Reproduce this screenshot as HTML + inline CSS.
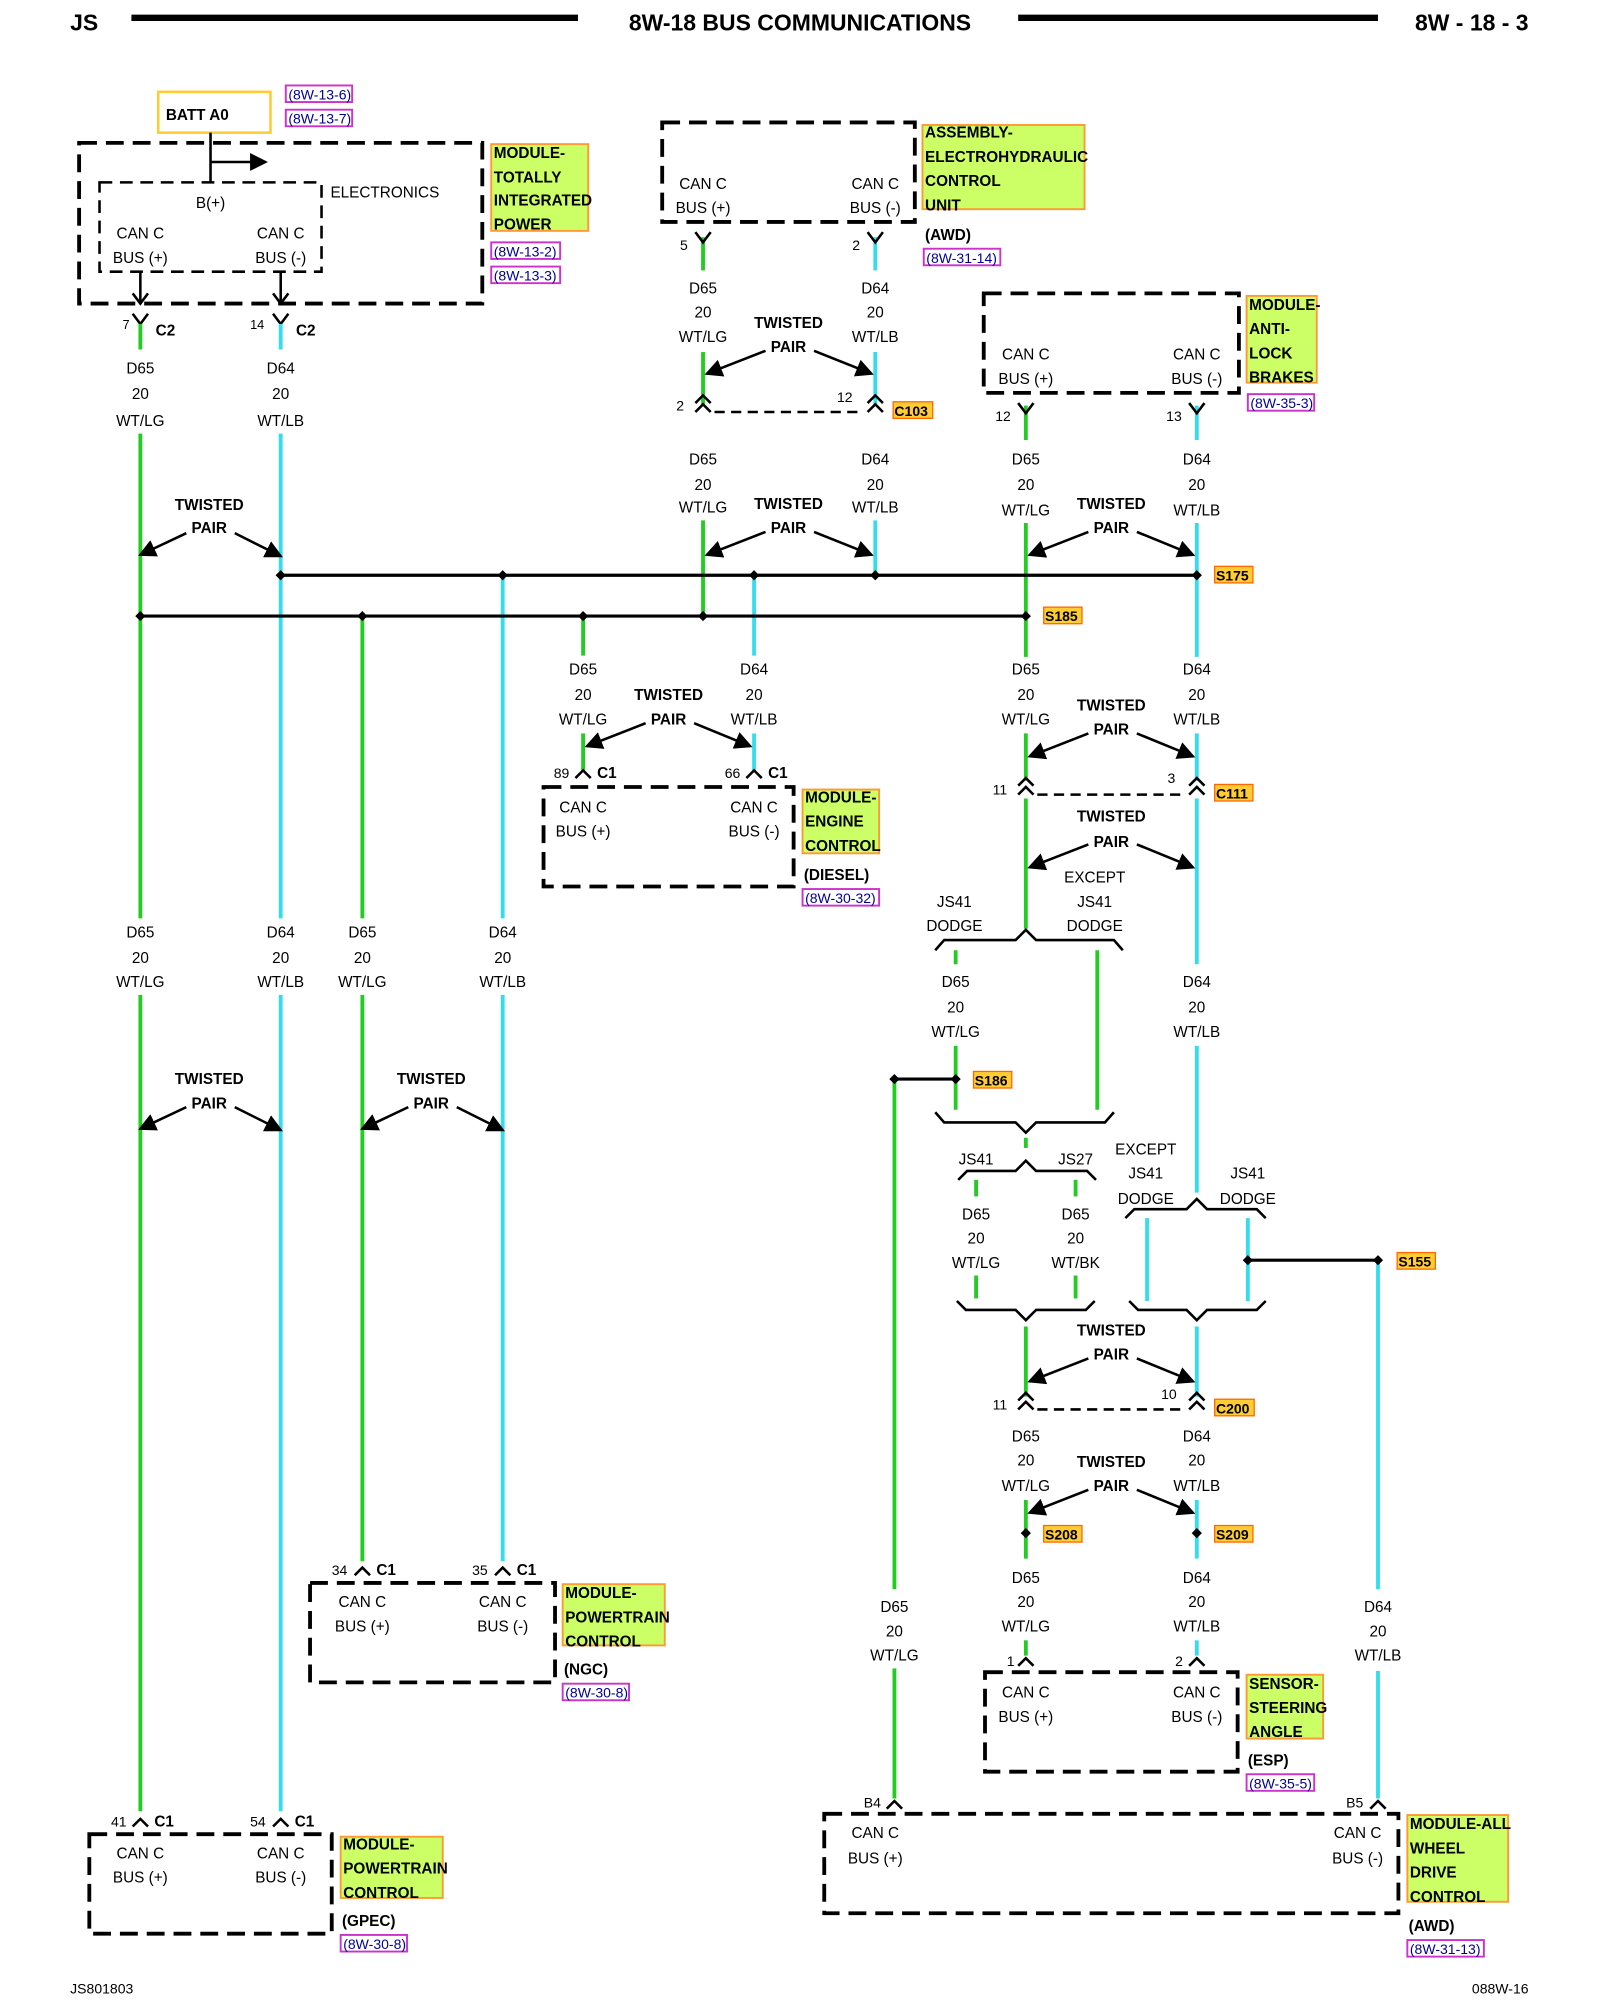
<!DOCTYPE html>
<html><head><meta charset="utf-8"><style>
html,body{margin:0;padding:0;background:#fff}
svg{display:block}
text{font-family:"Liberation Sans",sans-serif;font-size:12px;fill:#000}
.c{text-anchor:middle}
.b{font-weight:bold}
.g{stroke:#22cc22;stroke-width:3;fill:none}
.y{stroke:#33ddee;stroke-width:3;fill:none}
.k{stroke:#000;stroke-width:2;fill:none}
.d{stroke:#000;stroke-width:3;fill:none;stroke-dasharray:14 7}
.dt{stroke:#000;stroke-width:2;fill:none;stroke-dasharray:10 6}
.lab{fill:#ccff66;stroke:#ff9933;stroke-width:1.5}
.ref{fill:#fff;stroke:#cc33cc;stroke-width:1.5}
.rt{fill:#000099;font-size:11px}
.sp{fill:#ffcc33;stroke:#ff6600;stroke-width:1}
</style></head><body>
<svg width="1600" height="2000" viewBox="0 0 1254 1568" preserveAspectRatio="none" xmlns="http://www.w3.org/2000/svg">
<defs>
<marker id="ah" markerWidth="10" markerHeight="10" refX="8" refY="5" orient="auto" markerUnits="userSpaceOnUse"><path d="M0,0 L10,5 L0,10 z" fill="#000"/></marker>
<marker id="ah2" markerWidth="14" markerHeight="14" refX="12" refY="7" orient="auto" markerUnits="userSpaceOnUse"><path d="M0,0 L14,7 L0,14 z" fill="#000"/></marker>
</defs>
<!-- header -->
<text x="55" y="24" class="b" style="font-size:18px">JS</text>
<line x1="103" y1="14" x2="453" y2="14" stroke="#000" stroke-width="5"/>
<text x="627" y="24" class="b c" style="font-size:18px">8W-18 BUS COMMUNICATIONS</text>
<line x1="798" y1="14" x2="1080" y2="14" stroke="#000" stroke-width="5"/>
<text x="1198" y="24" class="b" style="font-size:18px;text-anchor:end">8W - 18 - 3</text>
<text x="55" y="1563" style="font-size:11px">JS801803</text>
<text x="1198" y="1563" style="font-size:11px;text-anchor:end">088W-16</text>

<!-- BATT -->
<rect x="124" y="72" width="88" height="32" fill="#fff" stroke="#ffcc33" stroke-width="2"/>
<text x="130" y="94" class="b">BATT A0</text>
<rect class="ref" x="224" y="67" width="52" height="13"/><text class="rt" x="226" y="78">(8W-13-6)</text>
<rect class="ref" x="224" y="86" width="52" height="13"/><text class="rt" x="226" y="97">(8W-13-7)</text>

<!-- TIPM -->
<rect class="d" x="62" y="112" width="316" height="126"/>
<rect class="dt" x="78" y="143" width="174" height="70"/>
<text x="259" y="155">ELECTRONICS</text>
<text x="165" y="163" class="c">B(+)</text>
<text x="110" y="187" class="c">CAN C</text><text x="110" y="206" class="c">BUS (+)</text>
<text x="220" y="187" class="c">CAN C</text><text x="220" y="206" class="c">BUS (-)</text>
<line class="k" x1="165" y1="104" x2="165" y2="143"/>
<line class="k" x1="165" y1="127" x2="208" y2="127" marker-end="url(#ah2)"/>
<line class="k" x1="110" y1="213" x2="110" y2="238"/><path class="k" d="M104,230 L110,238 L116,230"/>
<line class="k" x1="220" y1="213" x2="220" y2="238"/><path class="k" d="M214,230 L220,238 L226,230"/>
<rect class="lab" x="385" y="113" width="76" height="68"/>
<text x="387" y="124" class="b">MODULE-</text><text x="387" y="143" class="b">TOTALLY</text><text x="387" y="161" class="b">INTEGRATED</text><text x="387" y="180" class="b">POWER</text>
<rect class="ref" x="385" y="190" width="54" height="13"/><text class="rt" x="387" y="201">(8W-13-2)</text>
<rect class="ref" x="385" y="209" width="54" height="13"/><text class="rt" x="387" y="220">(8W-13-3)</text>

<!-- C2 pins -->
<path class="k" d="M104,246 L110,254 L116,246"/><text x="96" y="258" style="font-size:10px">7</text><text x="122" y="263" class="b">C2</text>
<path class="k" d="M214,246 L220,254 L226,246"/><text x="196" y="258" style="font-size:10px">14</text><text x="232" y="263" class="b">C2</text>

<!-- wires -->
<g class="g">
<line x1="110" y1="254" x2="110" y2="274"/><line x1="110" y1="340" x2="110" y2="720"/><line x1="110" y1="780" x2="110" y2="1420"/>
<line x1="284" y1="483" x2="284" y2="720"/><line x1="284" y1="780" x2="284" y2="1224"/>
<line x1="457" y1="483" x2="457" y2="514"/><line x1="457" y1="575" x2="457" y2="604"/>
<line x1="551" y1="186" x2="551" y2="212"/><line x1="551" y1="276" x2="551" y2="318"/><line x1="551" y1="408" x2="551" y2="483"/>
<line x1="804" y1="318" x2="804" y2="345"/><line x1="804" y1="410" x2="804" y2="515"/><line x1="804" y1="575" x2="804" y2="612"/><line x1="804" y1="626" x2="804" y2="728"/>
<line x1="749" y1="745" x2="749" y2="756"/><line x1="749" y1="820" x2="749" y2="870"/><line x1="860" y1="745" x2="860" y2="870"/>
<line x1="701" y1="846" x2="701" y2="1246"/><line x1="701" y1="1308" x2="701" y2="1410"/>
<line x1="804" y1="892" x2="804" y2="900"/>
<line x1="765" y1="925" x2="765" y2="938"/><line x1="765" y1="1000" x2="765" y2="1018"/>
<line x1="843" y1="925" x2="843" y2="938"/><line x1="843" y1="1000" x2="843" y2="1018"/>
<line x1="804" y1="1040" x2="804" y2="1095"/><line x1="804" y1="1176" x2="804" y2="1222"/><line x1="804" y1="1286" x2="804" y2="1298"/>
</g>
<g class="y">
<line x1="220" y1="254" x2="220" y2="274"/><line x1="220" y1="340" x2="220" y2="720"/><line x1="220" y1="780" x2="220" y2="1420"/>
<line x1="394" y1="451" x2="394" y2="720"/><line x1="394" y1="780" x2="394" y2="1224"/>
<line x1="591" y1="451" x2="591" y2="514"/><line x1="591" y1="575" x2="591" y2="604"/>
<line x1="686" y1="186" x2="686" y2="212"/><line x1="686" y1="276" x2="686" y2="318"/><line x1="686" y1="408" x2="686" y2="451"/>
<line x1="938" y1="318" x2="938" y2="345"/><line x1="938" y1="410" x2="938" y2="515"/><line x1="938" y1="575" x2="938" y2="612"/><line x1="938" y1="626" x2="938" y2="756"/><line x1="938" y1="820" x2="938" y2="935"/>
<line x1="899" y1="955" x2="899" y2="1020"/><line x1="978" y1="955" x2="978" y2="1020"/>
<line x1="1080" y1="988" x2="1080" y2="1246"/><line x1="1080" y1="1310" x2="1080" y2="1410"/>
<line x1="938" y1="1040" x2="938" y2="1095"/><line x1="938" y1="1176" x2="938" y2="1222"/><line x1="938" y1="1286" x2="938" y2="1298"/>
</g>

<!-- splice bars -->
<line class="k" x1="220" y1="451" x2="938" y2="451" style="stroke-width:2.5"/>
<line class="k" x1="110" y1="483" x2="804" y2="483" style="stroke-width:2.5"/>
<line class="k" x1="701" y1="846" x2="749" y2="846" style="stroke-width:2.5"/>
<line class="k" x1="978" y1="988" x2="1080" y2="988" style="stroke-width:2.5"/>
<g fill="#000">
<path d="M220,447 l4,4 l-4,4 l-4,-4z"/><path d="M394,447 l4,4 l-4,4 l-4,-4z"/><path d="M591,447 l4,4 l-4,4 l-4,-4z"/><path d="M686,447 l4,4 l-4,4 l-4,-4z"/><path d="M938,447 l4,4 l-4,4 l-4,-4z"/>
<path d="M110,479 l4,4 l-4,4 l-4,-4z"/><path d="M284,479 l4,4 l-4,4 l-4,-4z"/><path d="M457,479 l4,4 l-4,4 l-4,-4z"/><path d="M551,479 l4,4 l-4,4 l-4,-4z"/><path d="M804,479 l4,4 l-4,4 l-4,-4z"/>
<path d="M701,842 l4,4 l-4,4 l-4,-4z"/><path d="M749,842 l4,4 l-4,4 l-4,-4z"/>
<path d="M978,984 l4,4 l-4,4 l-4,-4z"/><path d="M1080,984 l4,4 l-4,4 l-4,-4z"/>
<path d="M804,1198 l4,4 l-4,4 l-4,-4z"/><path d="M938,1198 l4,4 l-4,4 l-4,-4z"/>
</g>
<rect class="sp" x="952" y="444" width="30" height="13"/><text x="953" y="455" class="b" style="font-size:11px">S175</text>
<rect class="sp" x="818" y="476" width="30" height="13"/><text x="819" y="487" class="b" style="font-size:11px">S185</text>
<rect class="sp" x="763" y="840" width="30" height="13"/><text x="764" y="851" class="b" style="font-size:11px">S186</text>
<rect class="sp" x="1095" y="982" width="30" height="13"/><text x="1096" y="993" class="b" style="font-size:11px">S155</text>
<rect class="sp" x="818" y="1196" width="30" height="13"/><text x="819" y="1207" class="b" style="font-size:11px">S208</text>
<rect class="sp" x="952" y="1196" width="30" height="13"/><text x="953" y="1207" class="b" style="font-size:11px">S209</text>
<rect class="sp" x="700" y="315" width="31" height="13"/><text x="701" y="326" class="b" style="font-size:11px">C103</text>
<rect class="sp" x="952" y="615" width="30" height="13"/><text x="953" y="626" class="b" style="font-size:11px">C111</text>
<rect class="sp" x="952" y="1097" width="31" height="13"/><text x="953" y="1108" class="b" style="font-size:11px">C200</text>

<!-- wire labels -->
<g class="c">
<text x="110" y="293">D65</text><text x="110" y="313">20</text><text x="110" y="334">WT/LG</text>
<text x="220" y="293">D64</text><text x="220" y="313">20</text><text x="220" y="334">WT/LB</text>
<text x="110" y="735">D65</text><text x="110" y="755">20</text><text x="110" y="774">WT/LG</text>
<text x="220" y="735">D64</text><text x="220" y="755">20</text><text x="220" y="774">WT/LB</text>
<text x="284" y="735">D65</text><text x="284" y="755">20</text><text x="284" y="774">WT/LG</text>
<text x="394" y="735">D64</text><text x="394" y="755">20</text><text x="394" y="774">WT/LB</text>
<text x="551" y="230">D65</text><text x="551" y="249">20</text><text x="551" y="268">WT/LG</text>
<text x="686" y="230">D64</text><text x="686" y="249">20</text><text x="686" y="268">WT/LB</text>
<text x="551" y="364">D65</text><text x="551" y="384">20</text><text x="551" y="402">WT/LG</text>
<text x="686" y="364">D64</text><text x="686" y="384">20</text><text x="686" y="402">WT/LB</text>
<text x="804" y="364">D65</text><text x="804" y="384">20</text><text x="804" y="404">WT/LG</text>
<text x="938" y="364">D64</text><text x="938" y="384">20</text><text x="938" y="404">WT/LB</text>
<text x="457" y="529">D65</text><text x="457" y="549">20</text><text x="457" y="568">WT/LG</text>
<text x="591" y="529">D64</text><text x="591" y="549">20</text><text x="591" y="568">WT/LB</text>
<text x="804" y="529">D65</text><text x="804" y="549">20</text><text x="804" y="568">WT/LG</text>
<text x="938" y="529">D64</text><text x="938" y="549">20</text><text x="938" y="568">WT/LB</text>
<text x="749" y="774">D65</text><text x="749" y="794">20</text><text x="749" y="813">WT/LG</text>
<text x="938" y="774">D64</text><text x="938" y="794">20</text><text x="938" y="813">WT/LB</text>
<text x="765" y="956">D65</text><text x="765" y="975">20</text><text x="765" y="994">WT/LG</text>
<text x="843" y="956">D65</text><text x="843" y="975">20</text><text x="843" y="994">WT/BK</text>
<text x="804" y="1130">D65</text><text x="804" y="1149">20</text><text x="804" y="1169">WT/LG</text>
<text x="938" y="1130">D64</text><text x="938" y="1149">20</text><text x="938" y="1169">WT/LB</text>
<text x="804" y="1241">D65</text><text x="804" y="1260">20</text><text x="804" y="1279">WT/LG</text>
<text x="938" y="1241">D64</text><text x="938" y="1260">20</text><text x="938" y="1279">WT/LB</text>
<text x="701" y="1264">D65</text><text x="701" y="1283">20</text><text x="701" y="1302">WT/LG</text>
<text x="1080" y="1264">D64</text><text x="1080" y="1283">20</text><text x="1080" y="1302">WT/LB</text>
<text x="748" y="711">JS41</text><text x="748" y="730">DODGE</text>
<text x="858" y="692">EXCEPT</text><text x="858" y="711">JS41</text><text x="858" y="730">DODGE</text>
<text x="765" y="913">JS41</text><text x="843" y="913">JS27</text>
<text x="898" y="905">EXCEPT</text><text x="898" y="924">JS41</text><text x="898" y="944">DODGE</text>
<text x="978" y="924">JS41</text><text x="978" y="944">DODGE</text>
</g>

<!-- braces -->
<g class="k">
<path d="M733,745 L740,737 L796,737 L804,729 L812,737 L873,737 L880,745"/>
<path d="M733,872 L740,880 L796,880 L804,888 L812,880 L866,880 L873,872"/>
<path d="M751,925 L758,918 L796,918 L804,910 L812,918 L852,918 L859,925"/>
<path d="M750,1020 L757,1027 L796,1027 L804,1035 L812,1027 L851,1027 L858,1020"/>
<path d="M882,955 L889,948 L930,948 L938,940 L946,948 L985,948 L992,955"/>
<path d="M885,1020 L892,1027 L930,1027 L938,1035 L946,1027 L985,1027 L992,1020"/>
</g>

<!-- twisted pairs -->
<g class="b c">
<text x="164" y="400">TWISTED</text><text x="164" y="418">PAIR</text>
<text x="164" y="850">TWISTED</text><text x="164" y="869">PAIR</text>
<text x="338" y="850">TWISTED</text><text x="338" y="869">PAIR</text>
<text x="618" y="257">TWISTED</text><text x="618" y="276">PAIR</text>
<text x="618" y="399">TWISTED</text><text x="618" y="418">PAIR</text>
<text x="871" y="399">TWISTED</text><text x="871" y="418">PAIR</text>
<text x="524" y="549">TWISTED</text><text x="524" y="568">PAIR</text>
<text x="871" y="557">TWISTED</text><text x="871" y="576">PAIR</text>
<text x="871" y="644">TWISTED</text><text x="871" y="664">PAIR</text>
<text x="871" y="1047">TWISTED</text><text x="871" y="1066">PAIR</text>
<text x="871" y="1150">TWISTED</text><text x="871" y="1169">PAIR</text>
</g>
<g class="k" marker-end="url(#ah2)">
<line x1="146" y1="418" x2="110" y2="435"/><line x1="184" y1="418" x2="220" y2="436"/>
<line x1="146" y1="868" x2="110" y2="885"/><line x1="184" y1="868" x2="220" y2="886"/>
<line x1="320" y1="868" x2="284" y2="885"/><line x1="358" y1="868" x2="394" y2="886"/>
<line x1="600" y1="275" x2="554" y2="293"/><line x1="638" y1="275" x2="683" y2="293"/>
<line x1="600" y1="417" x2="554" y2="435"/><line x1="638" y1="417" x2="683" y2="435"/>
<line x1="853" y1="417" x2="807" y2="435"/><line x1="891" y1="417" x2="935" y2="435"/>
<line x1="506" y1="567" x2="460" y2="585"/><line x1="544" y1="567" x2="588" y2="585"/>
<line x1="853" y1="575" x2="807" y2="593"/><line x1="891" y1="575" x2="935" y2="593"/>
<line x1="853" y1="662" x2="807" y2="680"/><line x1="891" y1="662" x2="935" y2="680"/>
<line x1="853" y1="1065" x2="807" y2="1083"/><line x1="891" y1="1065" x2="935" y2="1083"/>
<line x1="853" y1="1168" x2="807" y2="1186"/><line x1="891" y1="1168" x2="935" y2="1186"/>
</g>

<!-- EHCU -->
<rect class="d" x="519" y="96" width="198" height="78"/>
<text x="551" y="148" class="c">CAN C</text><text x="551" y="167" class="c">BUS (+)</text>
<text x="686" y="148" class="c">CAN C</text><text x="686" y="167" class="c">BUS (-)</text>
<rect class="lab" x="723" y="98" width="127" height="66"/>
<text x="725" y="108" class="b">ASSEMBLY-</text><text x="725" y="127" class="b">ELECTROHYDRAULIC</text><text x="725" y="146" class="b">CONTROL</text><text x="725" y="165" class="b">UNIT</text>
<text x="725" y="188" class="b">(AWD)</text>
<rect class="ref" x="724" y="195" width="60" height="13"/><text class="rt" x="726" y="206">(8W-31-14)</text>
<path class="k" d="M545,182 L551,190 L557,182"/><text x="533" y="196" style="font-size:11px">5</text>
<path class="k" d="M680,182 L686,190 L692,182"/><text x="668" y="196" style="font-size:11px">2</text>
<!-- C103 -->
<path class="k" d="M545,316 L551,310 L557,316 M545,323 L551,317 L557,323"/>
<path class="k" d="M680,316 L686,310 L692,316 M680,323 L686,317 L692,323"/>
<line class="k" x1="560" y1="323" x2="677" y2="323" style="stroke-dasharray:8 5"/>
<text x="530" y="322" style="font-size:11px">2</text><text x="656" y="315" style="font-size:11px">12</text>

<!-- ABS -->
<rect class="d" x="771" y="230" width="200" height="78"/>
<text x="804" y="282" class="c">CAN C</text><text x="804" y="301" class="c">BUS (+)</text>
<text x="938" y="282" class="c">CAN C</text><text x="938" y="301" class="c">BUS (-)</text>
<rect class="lab" x="977" y="232" width="55" height="68"/>
<text x="979" y="243" class="b">MODULE-</text><text x="979" y="262" class="b">ANTI-</text><text x="979" y="281" class="b">LOCK</text><text x="979" y="300" class="b">BRAKES</text>
<rect class="ref" x="978" y="309" width="52" height="13"/><text class="rt" x="980" y="320">(8W-35-3)</text>
<path class="k" d="M798,316 L804,324 L810,316"/><text x="780" y="330" style="font-size:11px">12</text>
<path class="k" d="M932,316 L938,324 L944,316"/><text x="914" y="330" style="font-size:11px">13</text>

<!-- ECM -->
<path class="k" d="M451,610 L457,604 L463,610"/><text x="434" y="610" style="font-size:11px">89</text><text x="468" y="610" class="b">C1</text>
<path class="k" d="M585,610 L591,604 L597,610"/><text x="568" y="610" style="font-size:11px">66</text><text x="602" y="610" class="b">C1</text>
<rect class="d" x="426" y="617" width="196" height="78"/>
<text x="457" y="637" class="c">CAN C</text><text x="457" y="656" class="c">BUS (+)</text>
<text x="591" y="637" class="c">CAN C</text><text x="591" y="656" class="c">BUS (-)</text>
<rect class="lab" x="629" y="619" width="60" height="50"/>
<text x="631" y="629" class="b">MODULE-</text><text x="631" y="648" class="b">ENGINE</text><text x="631" y="667" class="b">CONTROL</text>
<text x="630" y="690" class="b">(DIESEL)</text>
<rect class="ref" x="629" y="697" width="60" height="13"/><text class="rt" x="631" y="708">(8W-30-32)</text>

<!-- C111 -->
<path class="k" d="M798,616 L804,610 L810,616 M798,623 L804,617 L810,623"/>
<path class="k" d="M932,616 L938,610 L944,616 M932,623 L938,617 L944,623"/>
<line class="k" x1="813" y1="623" x2="929" y2="623" style="stroke-dasharray:8 5"/>
<text x="778" y="623" style="font-size:11px">11</text><text x="915" y="614" style="font-size:11px">3</text>
<!-- C200 -->
<path class="k" d="M798,1098 L804,1092 L810,1098 M798,1105 L804,1099 L810,1105"/>
<path class="k" d="M932,1098 L938,1092 L944,1098 M932,1105 L938,1099 L944,1105"/>
<line class="k" x1="813" y1="1105" x2="929" y2="1105" style="stroke-dasharray:8 5"/>
<text x="778" y="1105" style="font-size:11px">11</text><text x="910" y="1097" style="font-size:11px">10</text>

<!-- SAS -->
<path class="k" d="M798,1306 L804,1300 L810,1306"/><text x="789" y="1306" style="font-size:11px">1</text>
<path class="k" d="M932,1306 L938,1300 L944,1306"/><text x="921" y="1306" style="font-size:11px">2</text>
<rect class="d" x="772" y="1311" width="198" height="78"/>
<text x="804" y="1331" class="c">CAN C</text><text x="804" y="1350" class="c">BUS (+)</text>
<text x="938" y="1331" class="c">CAN C</text><text x="938" y="1350" class="c">BUS (-)</text>
<rect class="lab" x="977" y="1313" width="60" height="50"/>
<text x="979" y="1324" class="b">SENSOR-</text><text x="979" y="1343" class="b">STEERING</text><text x="979" y="1362" class="b">ANGLE</text>
<text x="978" y="1384" class="b">(ESP)</text>
<rect class="ref" x="977" y="1391" width="53" height="13"/><text class="rt" x="979" y="1402">(8W-35-5)</text>

<!-- AWD -->
<path class="k" d="M695,1418 L701,1412 L707,1418"/><text x="677" y="1417" style="font-size:11px">B4</text>
<path class="k" d="M1074,1418 L1080,1412 L1086,1418"/><text x="1055" y="1417" style="font-size:11px">B5</text>
<rect class="d" x="646" y="1422" width="450" height="78"/>
<text x="686" y="1441" class="c">CAN C</text><text x="686" y="1461" class="c">BUS (+)</text>
<text x="1064" y="1441" class="c">CAN C</text><text x="1064" y="1461" class="c">BUS (-)</text>
<rect class="lab" x="1103" y="1423" width="79" height="68"/>
<text x="1105" y="1434" class="b">MODULE-ALL</text><text x="1105" y="1453" class="b">WHEEL</text><text x="1105" y="1472" class="b">DRIVE</text><text x="1105" y="1491" class="b">CONTROL</text>
<text x="1104" y="1514" class="b">(AWD)</text>
<rect class="ref" x="1103" y="1521" width="60" height="13"/><text class="rt" x="1105" y="1532">(8W-31-13)</text>

<!-- PCM NGC -->
<path class="k" d="M278,1235 L284,1229 L290,1235"/><text x="260" y="1235" style="font-size:11px">34</text><text x="295" y="1235" class="b">C1</text>
<path class="k" d="M388,1235 L394,1229 L400,1235"/><text x="370" y="1235" style="font-size:11px">35</text><text x="405" y="1235" class="b">C1</text>
<rect class="d" x="243" y="1241" width="192" height="78"/>
<text x="284" y="1260" class="c">CAN C</text><text x="284" y="1279" class="c">BUS (+)</text>
<text x="394" y="1260" class="c">CAN C</text><text x="394" y="1279" class="c">BUS (-)</text>
<rect class="lab" x="441" y="1242" width="80" height="48"/>
<text x="443" y="1253" class="b">MODULE-</text><text x="443" y="1272" class="b">POWERTRAIN</text><text x="443" y="1291" class="b">CONTROL</text>
<text x="442" y="1313" class="b">(NGC)</text>
<rect class="ref" x="441" y="1320" width="52" height="13"/><text class="rt" x="443" y="1331">(8W-30-8)</text>

<!-- PCM GPEC -->
<path class="k" d="M104,1432 L110,1426 L116,1432"/><text x="87" y="1432" style="font-size:11px">41</text><text x="121" y="1432" class="b">C1</text>
<path class="k" d="M214,1432 L220,1426 L226,1432"/><text x="196" y="1432" style="font-size:11px">54</text><text x="231" y="1432" class="b">C1</text>
<rect class="d" x="70" y="1438" width="190" height="78"/>
<text x="110" y="1457" class="c">CAN C</text><text x="110" y="1476" class="c">BUS (+)</text>
<text x="220" y="1457" class="c">CAN C</text><text x="220" y="1476" class="c">BUS (-)</text>
<rect class="lab" x="267" y="1440" width="80" height="48"/>
<text x="269" y="1450" class="b">MODULE-</text><text x="269" y="1469" class="b">POWERTRAIN</text><text x="269" y="1488" class="b">CONTROL</text>
<text x="268" y="1510" class="b">(GPEC)</text>
<rect class="ref" x="267" y="1517" width="52" height="13"/><text class="rt" x="269" y="1528">(8W-30-8)</text>
</svg>
</body></html>
